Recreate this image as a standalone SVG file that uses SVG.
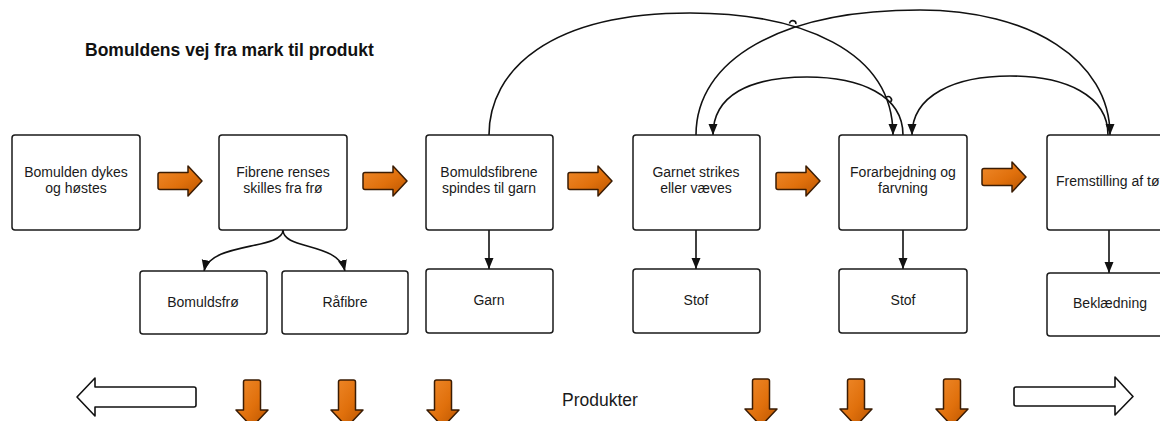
<svg xmlns="http://www.w3.org/2000/svg" width="1160" height="421" viewBox="0 0 1160 421">
<defs>
<style>
.box{fill:#fff;stroke:#1a1a1a;stroke-width:1.5}
.t{font-family:"Liberation Sans",Arial,sans-serif;font-size:14px;fill:#1a1a1a;text-anchor:middle}
.title{font-family:"Liberation Sans",Arial,sans-serif;font-size:17.5px;font-weight:bold;fill:#111}
.big{font-family:"Liberation Sans",Arial,sans-serif;font-size:17.5px;fill:#1a1a1a}
.c{fill:none;stroke:#111;stroke-width:1.6}
.orange{fill:url(#og);stroke:#3a1c04;stroke-width:1.5;stroke-linejoin:round}
.hollow{fill:#fff;stroke:#111;stroke-width:1.6;stroke-linejoin:round}
</style>
<linearGradient id="og" x1="0" y1="0" x2="1" y2="1">
<stop offset="0" stop-color="#f08a2c"/>
<stop offset="0.55" stop-color="#e0700c"/>
<stop offset="1" stop-color="#b85400"/>
</linearGradient>
<marker id="ah" markerUnits="userSpaceOnUse" markerWidth="12" markerHeight="10" refX="11" refY="4.5" orient="auto">
<path d="M0,0 L11,4.5 L0,9 Z" fill="#111"/>
</marker>
<path id="rarrow" d="M2,-8.5 L30,-8.5 L30,-15 L44,0 L30,15 L30,8.5 L2,8.5 Q0,8.5 0,6.5 L0,-6.5 Q0,-8.5 2,-8.5 Z"/>
<path id="darrow" d="M-8.5,2 Q-8.5,0 -6.5,0 L6.5,0 Q8.5,0 8.5,2 L8.5,30 L16,30 L0,47 L-16,30 L-8.5,30 Z"/>
</defs>
<rect width="1160" height="421" fill="#fff"/>
<text class="title" x="85" y="56">Bomuldens vej fra mark til produkt</text>

<g id="connectors">
<path class="c" d="M283,230 C283,250 210,242 204,271" marker-end="url(#ah)"/>
<path class="c" d="M283,230 C283,250 338,242 345,271" marker-end="url(#ah)"/>
<path class="c" d="M489,230 L489,269" marker-end="url(#ah)"/>
<path class="c" d="M696,230 L696,269" marker-end="url(#ah)"/>
<path class="c" d="M903,230 L903,269" marker-end="url(#ah)"/>
<path class="c" d="M1109,230 L1109,273" marker-end="url(#ah)"/>
<path class="c" d="M489,135 C489,70 550,13 690,13 C800,13 893,50 893,135" marker-end="url(#ah)"/>
<path class="c" d="M696,135 C696,60 780,10 920,10 C1030,10 1110,60 1110,135" marker-end="url(#ah)"/>
<path class="c" d="M903,135 C903,95 860,77 807,77 C750,77 713,95 713,135" marker-end="url(#ah)"/>
<path class="c" d="M1108,135 C1108,95 1065,76 1010,76 C955,76 912,95 912,135" marker-end="url(#ah)"/>
<path class="c" d="M789.5,23.5 a3.2,3.2 0 0 1 6.4,0.6"/>
<path class="c" d="M886,97.5 a3,3 0 0 1 4.5,4.5"/>
</g>

<g id="flow-arrows">
<use href="#rarrow" class="orange" x="158" y="181"/>
<use href="#rarrow" class="orange" x="363" y="181"/>
<use href="#rarrow" class="orange" x="568" y="181"/>
<use href="#rarrow" class="orange" x="776" y="181"/>
<use href="#rarrow" class="orange" x="982" y="177"/>
</g>

<g id="n1"><rect class="box" x="12" y="135" width="128" height="95" rx="3"/>
<text class="t" x="76" y="177">Bomulden dykes</text><text class="t" x="76" y="193">og høstes</text></g>
<g id="n2"><rect class="box" x="219" y="135" width="128" height="95" rx="3"/>
<text class="t" x="283" y="177">Fibrene renses</text><text class="t" x="283" y="193">skilles fra frø</text></g>
<g id="n3"><rect class="box" x="426" y="135" width="127" height="95" rx="3"/>
<text class="t" x="489" y="177">Bomuldsfibrene</text><text class="t" x="489" y="193">spindes til garn</text></g>
<g id="n4"><rect class="box" x="633" y="135" width="127" height="95" rx="3"/>
<text class="t" x="696" y="177">Garnet strikes</text><text class="t" x="696" y="193">eller væves</text></g>
<g id="n5"><rect class="box" x="839" y="135" width="128" height="95" rx="3"/>
<text class="t" x="903" y="177">Forarbejdning og</text><text class="t" x="903" y="193">farvning</text></g>
<g id="n6"><rect class="box" x="1047" y="135" width="128" height="95" rx="3"/>
<text class="t" x="1056" y="186" style="text-anchor:start">Fremstilling af tø</text></g>

<g id="p1"><rect class="box" x="140" y="271" width="127" height="63" rx="3"/><text class="t" x="203" y="307">Bomuldsfrø</text></g>
<g id="p2"><rect class="box" x="282" y="271" width="126" height="63" rx="3"/><text class="t" x="345" y="307">Råfibre</text></g>
<g id="p3"><rect class="box" x="426" y="269" width="127" height="64" rx="3"/><text class="t" x="489" y="305">Garn</text></g>
<g id="p4"><rect class="box" x="633" y="269" width="127" height="64" rx="3"/><text class="t" x="696" y="305">Stof</text></g>
<g id="p5"><rect class="box" x="839" y="269" width="128" height="64" rx="3"/><text class="t" x="903" y="305">Stof</text></g>
<g id="p6"><rect class="box" x="1047" y="273" width="128" height="63" rx="3"/><text class="t" x="1110" y="308">Beklædning</text></g>

<g id="legend">
<path class="hollow" d="M194,387 Q196,387 196,389 L196,405 Q196,407 194,407 L95,407 L95,416 L77,397 L95,378 L95,387 Z"/>
<path class="hollow" d="M1016,387 Q1014,387 1014,389 L1014,404 Q1014,406 1016,406 L1115,406 L1115,415 L1133,396.5 L1115,377 L1115,387 Z"/>
<use href="#darrow" class="orange" x="252" y="380"/>
<use href="#darrow" class="orange" x="347" y="380"/>
<use href="#darrow" class="orange" x="443" y="380"/>
<use href="#darrow" class="orange" x="761" y="379"/>
<use href="#darrow" class="orange" x="856" y="379"/>
<use href="#darrow" class="orange" x="952" y="379"/>
<text class="big" x="562" y="406">Produkter</text>
</g>
</svg>
